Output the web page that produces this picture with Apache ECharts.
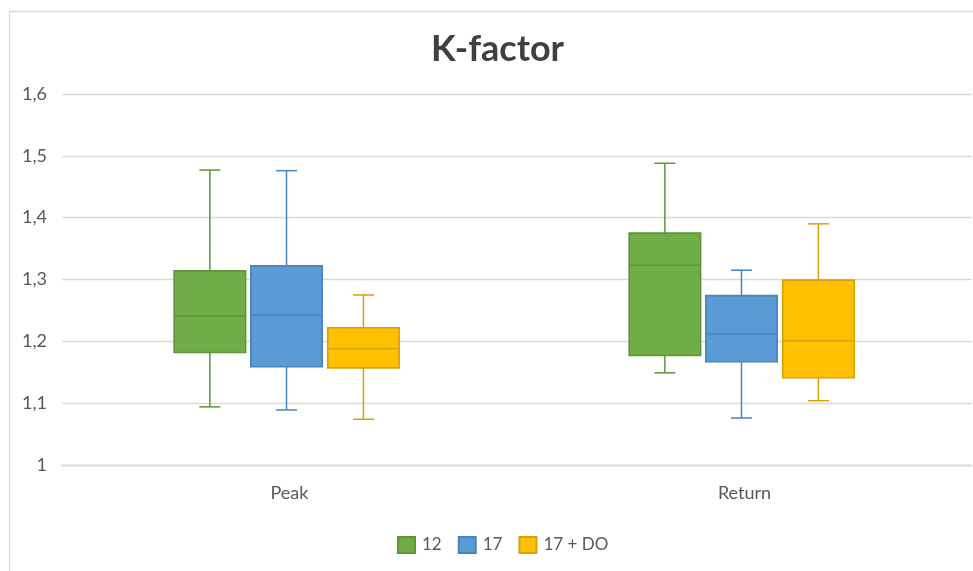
<!DOCTYPE html>
<html>
<head>
<meta charset="utf-8">
<title>K-factor</title>
<script src="https://cdn.jsdelivr.net/npm/echarts@6/dist/echarts.min.js"></script>
<style>
  html, body { margin: 0; padding: 0; background: #ffffff; }
  #chart { width: 973px; height: 571px; }
</style>
</head>
<body>
<div id="chart"></div>
<script>
// Categories on the x axis
const categories = ['Peak', 'Return'];

// Series names, shown in the legend
const seriesNames = ['12', '17', '17 + DO'];

// Five-number summaries per category: [min, Q1, median, Q3, max]
const values12 = [
  [1.094, 1.182, 1.241, 1.314, 1.477],
  [1.149, 1.177, 1.323, 1.375, 1.488]
];
const values17 = [
  [1.089, 1.159, 1.242, 1.322, 1.476],
  [1.076, 1.167, 1.212, 1.274, 1.315]
];
const values17DO = [
  [1.074, 1.157, 1.188, 1.222, 1.275],
  [1.104, 1.141, 1.201, 1.299, 1.390]
];

// Value axis tick labels (decimal comma)
const yTickLabels = ['1', '1,1', '1,2', '1,3', '1,4', '1,5', '1,6'];

const seriesValues = [values12, values17, values17DO];
const fillColors = ['#70AD47', '#5B9BD5', '#FFC000'];
const lineColors = ['#5E9539', '#4A84BA', '#D4A20A'];

// Horizontal placement of each box inside its category band (fraction of band width)
const slotOffsets = [-0.175, -0.0066, 0.1625];
const BOX_FRAC = 0.157;
const CAP_FRAC = 0.046;

function makeRenderer(slot) {
  return function (params, api) {
    const cat = api.value(0);
    const pMin = api.coord([cat, api.value(1)]);
    const pQ1 = api.coord([cat, api.value(2)]);
    const pMed = api.coord([cat, api.value(3)]);
    const pQ3 = api.coord([cat, api.value(4)]);
    const pMax = api.coord([cat, api.value(5)]);
    const band = api.size([1, 0])[0];
    const cx = pMin[0] + band * slotOffsets[slot];
    const hw = band * BOX_FRAC / 2;
    const cw = band * CAP_FRAC / 2;
    const stroke = lineColors[slot];
    const lineStyle = { stroke: stroke, lineWidth: 1.5, fill: null };
    return {
      type: 'group',
      children: [
        { type: 'line', shape: { x1: cx, y1: pMax[1], x2: cx, y2: pQ3[1] }, style: lineStyle },
        { type: 'line', shape: { x1: cx, y1: pQ1[1], x2: cx, y2: pMin[1] }, style: lineStyle },
        { type: 'line', shape: { x1: cx - cw, y1: pMax[1], x2: cx + cw, y2: pMax[1] }, style: lineStyle },
        { type: 'line', shape: { x1: cx - cw, y1: pMin[1], x2: cx + cw, y2: pMin[1] }, style: lineStyle },
        {
          type: 'rect',
          shape: { x: cx - hw, y: pQ3[1], width: hw * 2, height: pQ1[1] - pQ3[1] },
          style: { fill: fillColors[slot], stroke: stroke, lineWidth: 1.6 }
        },
        { type: 'line', shape: { x1: cx - hw, y1: pMed[1], x2: cx + hw, y2: pMed[1] }, style: lineStyle }
      ]
    };
  };
}

const series = seriesNames.map(function (name, s) {
  return {
    name: name,
    type: 'custom',
    renderItem: makeRenderer(s),
    encode: { x: 0, y: [1, 2, 3, 4, 5] },
    itemStyle: { color: fillColors[s], borderColor: lineColors[s], borderWidth: 1.2 },
    data: seriesValues[s].map(function (v, i) { return [i].concat(v); })
  };
});

const FONT = 'Lato, "Open Sans", sans-serif';

const chart = echarts.init(document.getElementById('chart'), null, { renderer: 'canvas' });
chart.setOption({
  backgroundColor: '#ffffff',
  animation: false,
  title: {
    text: 'K-factor',
    left: 426,
    top: 26,
    textStyle: { fontFamily: FONT, fontSize: 36, fontWeight: 'bold', color: '#404040' }
  },
  legend: {
    data: seriesNames,
    left: 392,
    top: 531,
    icon: 'rect',
    itemWidth: 17,
    itemHeight: 16,
    itemGap: 16,
    textStyle: { fontFamily: FONT, fontSize: 17, color: '#595959', padding: [0, 0, 0, 2] }
  },
  graphic: [{
    type: 'rect',
    silent: true,
    shape: { x: 9.5, y: 11.5, width: 1000, height: 600 },
    style: { fill: null, stroke: '#d9d9d9', lineWidth: 1.3 }
  }],
  grid: { left: 62, right: 1, top: 94, bottom: 106 },
  xAxis: {
    type: 'category',
    data: categories,
    axisLine: { show: true, lineStyle: { color: '#d9d9d9', width: 1.3 } },
    axisTick: { show: false },
    axisLabel: { fontFamily: FONT, fontSize: 18, color: '#595959', margin: 19 },
    splitLine: { show: false }
  },
  yAxis: {
    type: 'value',
    min: 1,
    max: 1.6,
    interval: 0.1,
    axisLine: { show: false },
    axisTick: { show: false },
    axisLabel: {
      fontFamily: FONT,
      fontSize: 18,
      color: '#595959',
      margin: 15,
      formatter: function (v) {
        const idx = Math.round((v - 1) * 10);
        return yTickLabels[idx];
      }
    },
    splitLine: { lineStyle: { color: '#d9d9d9', width: 1.3 } }
  },
  series: series
});
</script>
</body>
</html>
